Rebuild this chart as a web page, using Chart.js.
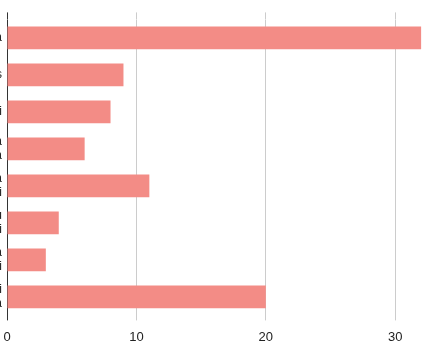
<!DOCTYPE html>
<html>
<head>
<meta charset="utf-8">
<script src="https://cdn.jsdelivr.net/npm/chart.js@4.4.1/dist/chart.umd.min.js"></script>
<style>
  html, body { margin: 0; padding: 0; background: #fff; overflow: hidden; }
  #wrap { position: relative; width: 439px; height: 363px; overflow: hidden; }
  #myChart { position: absolute; left: -150px; top: 0; }
</style>
</head>
<body>
<div id="wrap"><canvas id="myChart" width="589" height="363"></canvas></div>
<script>
// Datos del gráfico (las etiquetas quedan recortadas a la izquierda)
const categorias = [
  "Lainnya",
  "Kelas",
  "Bali",
  ["Sumatera", "Papua"],
  ["Jawa", "Bali"],
  ["Maluku", "Sulawesi"],
  ["Nusa", "Kalimantan Timi"],
  ["Aceh Jambi", "Jakarta"]
];
const valores = [32, 9, 8, 6, 11, 4, 3, 20];
const ticksX = [0, 10, 20, 30];

const ANCHO_Y = 157; // 150 fuera de pantalla + 7

const ctx = document.getElementById("myChart").getContext("2d");
const myChart = new Chart(ctx, {
  type: "bar",
  data: {
    labels: categorias,
    datasets: [
      {
        data: valores,
        backgroundColor: "#f38c86",
        borderWidth: 0,
        categoryPercentage: 1,
        barPercentage: 0.61
      }
    ]
  },
  options: {
    indexAxis: "y",
    responsive: false,
    animation: false,
    layout: { padding: { top: 5, right: 14, bottom: 9, left: 0 } },
    plugins: {
      legend: { display: false },
      tooltip: { enabled: false }
    },
    scales: {
      x: {
        position: "bottom",
        min: 0,
        max: 32.3,
        afterBuildTicks: (scale) => { scale.ticks = ticksX.map(v => ({ value: v })); },
        grid: {
          color: (c) => (c.tick && c.tick.value === 0 ? "#333333" : "#cccccc"),
          tickLength: 5,
          lineWidth: 1
        },
        border: { display: false },
        ticks: {
          color: "#222222",
          padding: 9,
          font: { family: "Liberation Sans, Arial", size: 13 }
        }
      },
      x2: {
        position: "top",
        min: 0,
        max: 32.3,
        afterBuildTicks: (scale) => { scale.ticks = ticksX.map(v => ({ value: v })); },
        grid: {
          color: (c) => (c.tick && c.tick.value === 0 ? "#333333" : "#cccccc"),
          tickLength: 7,
          drawOnChartArea: false
        },
        border: { display: false },
        ticks: { display: false }
      },
      y: {
        afterFit: (scale) => { scale.width = ANCHO_Y; },
        grid: { display: false, drawTicks: false },
        border: { display: false },
        ticks: {
          color: "#222222",
          padding: 5,
          font: { family: "Liberation Sans, Arial", size: 12 }
        }
      }
    }
  }
});
</script>
</body>
</html>
